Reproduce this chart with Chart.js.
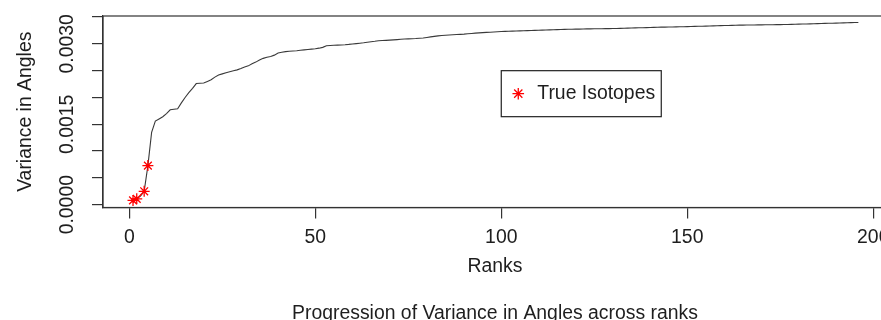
<!DOCTYPE html>
<html>
<head>
<meta charset="utf-8">
<script src="https://cdn.jsdelivr.net/npm/chart.js@4"></script>
<style>
  html, body { margin: 0; padding: 0; background: #fff; overflow: hidden; }
  canvas { display: block; }
</style>
</head>
<body>
<canvas id="chart" width="900" height="320"></canvas>
<script>
// variance in angles, ordered by rank (rank 1 .. 196)
const variance = [
  0.000080, 0.000110, 0.000160, 0.000250, 0.000730, 0.001350, 0.001560, 0.001600, 0.001640, 0.001700,
  0.001770, 0.001780, 0.001790, 0.001900, 0.002000, 0.002090, 0.002170, 0.002260, 0.002265, 0.002270,
  0.002300, 0.002330, 0.002380, 0.002420, 0.002440, 0.002460, 0.002480, 0.002500, 0.002515, 0.002540,
  0.002570, 0.002590, 0.002630, 0.002660, 0.002700, 0.002730, 0.002750, 0.002765, 0.002790, 0.002830,
  0.002845, 0.002855, 0.002862, 0.002868, 0.002873, 0.002880, 0.002888, 0.002895, 0.002902, 0.002910,
  0.002920, 0.002935, 0.002965, 0.002970, 0.002974, 0.002977, 0.002980, 0.002984, 0.002990, 0.002998,
  0.003005, 0.003012, 0.003020, 0.003030, 0.003040, 0.003048, 0.003058, 0.003062, 0.003066, 0.003070,
  0.003075, 0.003080, 0.003085, 0.003090, 0.003094, 0.003097, 0.003100, 0.003105, 0.003110, 0.003120,
  0.003130, 0.003140, 0.003150, 0.003156, 0.003162, 0.003166, 0.003170, 0.003174, 0.003178, 0.003182,
  0.003188, 0.003194, 0.003200, 0.003205, 0.003210, 0.003214, 0.003218, 0.003222, 0.003226, 0.003230,
  0.003233, 0.003236, 0.003238, 0.003240, 0.003243, 0.003246, 0.003248, 0.003250, 0.003252, 0.003255,
  0.003257, 0.003260, 0.003262, 0.003264, 0.003266, 0.003268, 0.003270, 0.003272, 0.003273, 0.003275,
  0.003276, 0.003278, 0.003279, 0.003280, 0.003281, 0.003282, 0.003283, 0.003284, 0.003285, 0.003286,
  0.003288, 0.003290, 0.003292, 0.003294, 0.003296, 0.003298, 0.003300, 0.003302, 0.003304, 0.003306,
  0.003308, 0.003310, 0.003312, 0.003313, 0.003315, 0.003316, 0.003318, 0.003319, 0.003320, 0.003322,
  0.003324, 0.003326, 0.003328, 0.003330, 0.003332, 0.003334, 0.003336, 0.003338, 0.003340, 0.003342,
  0.003344, 0.003346, 0.003348, 0.003349, 0.003350, 0.003351, 0.003352, 0.003353, 0.003354, 0.003355,
  0.003356, 0.003357, 0.003358, 0.003359, 0.003360, 0.003361, 0.003362, 0.003364, 0.003366, 0.003368,
  0.003370, 0.003372, 0.003374, 0.003376, 0.003378, 0.003380, 0.003382, 0.003384, 0.003386, 0.003388,
  0.003390, 0.003392, 0.003394, 0.003396, 0.003398, 0.003400
];
const ranks = variance.map((v, i) => i + 1);

// ranks of the true isotopes (red stars)
const isotopeRanks = [1, 2, 4, 5];

const xTicks = [0, 50, 100, 150, 200];
const yLabelTicks = [0, 0.0015, 0.0030];

const legendLabel = "True Isotopes";
const legendAt = { x: 100, y: 0.0025 };   // top-left corner of legend, data units

const FONT = "'Liberation Sans', Arial, sans-serif";
const FSIZE = 19.4;
const TXT = "#1e1e1e";
const AXIS = "#333";

// full box round the plot (like R's box()) plus the legend
const boxPlugin = {
    id: "box",
    afterDraw(chart) {
        const { ctx, chartArea: a, scales } = chart;
        ctx.save();
        ctx.strokeStyle = AXIS;
        ctx.lineWidth = 1.2;
        ctx.strokeRect(a.left, a.top, a.right - a.left, a.bottom - a.top);

        const lx = scales.x.getPixelForValue(legendAt.x);
        const ly = scales.y.getPixelForValue(legendAt.y);
        const w = 160, h = 46;
        ctx.fillStyle = "#fff";
        ctx.fillRect(lx, ly, w, h);
        ctx.strokeStyle = "#222";
        ctx.strokeRect(lx, ly, w, h);

        ctx.strokeStyle = "#ff0000";
        ctx.lineWidth = 1.3;
        Chart.helpers.drawPoint(ctx, { pointStyle: "star", radius: 5.8, borderWidth: 1.3 }, lx + 17, ly + h / 2);

        ctx.fillStyle = TXT;
        ctx.font = FSIZE + "px " + FONT;
        ctx.textBaseline = "middle";
        ctx.fillText(legendLabel, lx + 36, ly + h / 2);
        ctx.restore();
    }
};

const ctx = document.getElementById("chart").getContext("2d");
new Chart(ctx, {
    type: "scatter",
    data: {
        datasets: [
            {
                label: "Variance",
                data: ranks.map((r, i) => ({ x: r, y: variance[i] })),
                showLine: true,
                borderColor: "#3a3a3a",
                borderWidth: 1.1,
                pointRadius: 0,
                tension: 0,
                order: 2
            },
            {
                label: legendLabel,
                data: isotopeRanks.map(r => ({ x: r, y: variance[r - 1] })),
                showLine: false,
                pointStyle: "star",
                pointRadius: 5.5,
                borderColor: "#ff0000",
                borderWidth: 1.3,
                backgroundColor: "#ff0000",
                order: 1
            }
        ]
    },
    options: {
        responsive: false,
        animation: false,
        layout: { padding: { top: 16, right: 13, left: 0, bottom: 0 } },
        plugins: {
            legend: { display: false },
            tooltip: { enabled: false },
            title: { display: false }
        },
        scales: {
            x: {
                type: "linear",
                min: -7.07,
                max: 203.7,
                afterFit(s) { s.height = 112.5; s.paddingLeft = 0; s.paddingRight = 0; },
                afterBuildTicks(s) { s.ticks = xTicks.map(v => ({ value: v })); },
                ticks: {
                    autoSkip: false,
                    maxRotation: 0,
                    color: TXT,
                    padding: 8,
                    font: { family: FONT, size: FSIZE }
                },
                grid: { drawOnChartArea: false, tickLength: 11, color: AXIS, lineWidth: 1.2 },
                border: { display: true, color: AXIS, width: 1.2 },
                title: {
                    display: true,
                    text: ["Ranks", "", "Progression of Variance in Angles across ranks"],
                    color: TXT,
                    font: { family: FONT, size: FSIZE, lineHeight: 1.2 },
                    padding: { top: 0, bottom: -5 }
                }
            },
            y: {
                type: "linear",
                min: -0.0000522,
                max: 0.00352,
                afterFit(s) { s.width = 103; s.paddingTop = 0; s.paddingBottom = 0; },
                ticks: {
                    stepSize: 0.0005,
                    includeBounds: false,
                    autoSkip: false,
                    minRotation: 90,
                    maxRotation: 90,
                    crossAlign: "center",
                    padding: -5,
                    color: TXT,
                    font: { family: FONT, size: FSIZE },
                    callback(v) {
                        return yLabelTicks.some(t => Math.abs(t - v) < 1e-9) ? v.toFixed(4) : "";
                    }
                },
                grid: { drawOnChartArea: false, tickLength: 11, color: AXIS, lineWidth: 1.2 },
                border: { display: true, color: AXIS, width: 1.2 },
                title: {
                    display: true,
                    text: "Variance in Angles",
                    color: TXT,
                    font: { family: FONT, size: FSIZE, lineHeight: 1.2 },
                    padding: { top: 14, bottom: 0 }
                }
            }
        }
    },
    plugins: [boxPlugin]
});
</script>
</body>
</html>
